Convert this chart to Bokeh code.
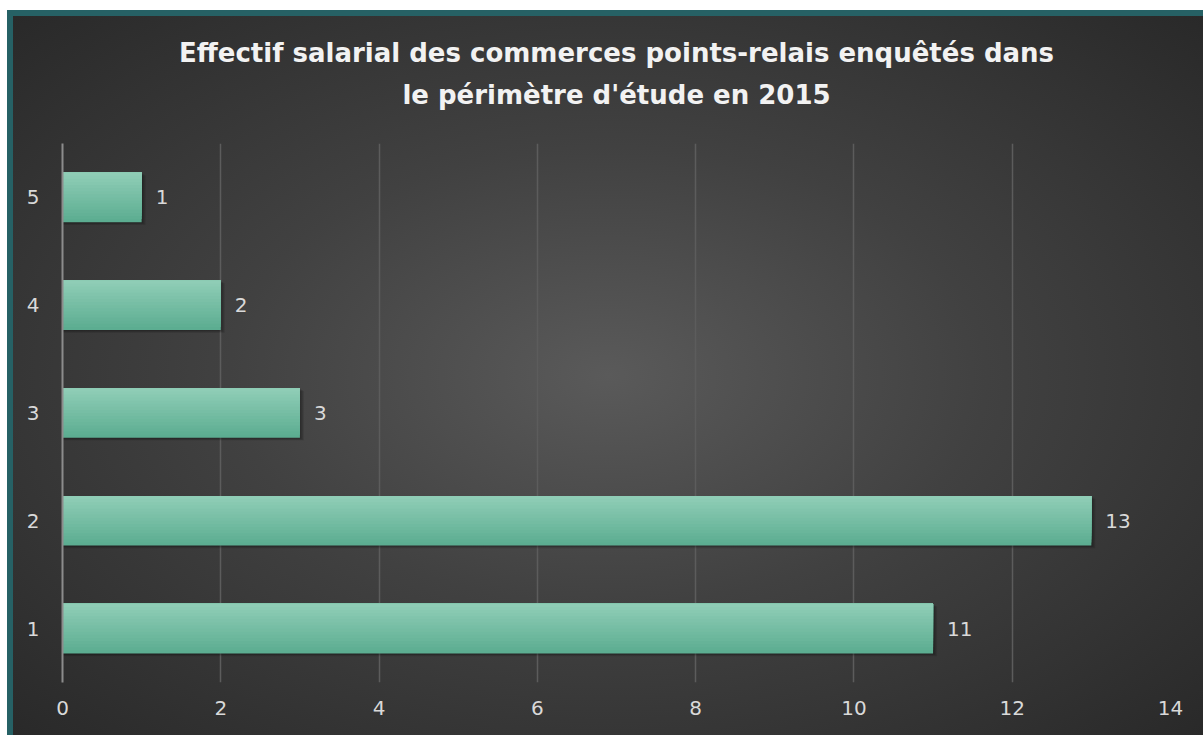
from bokeh.plotting import figure
from bokeh.models import Range1d, FixedTicker, LabelSet, ColumnDataSource, Title
from bokeh.transform import dodge
from bokeh.core.properties import value
from bokeh.embed import file_html
from bokeh.resources import INLINE

# ---- data ----
categories = [1, 2, 3, 4, 5]
values = [11, 13, 3, 2, 1]
labels = [str(v) for v in values]
x_ticks = [0, 2, 4, 6, 8, 10, 12, 14]
title_line1 = "Effectif salarial des commerces points-relais enquêtés dans"
title_line2 = "le périmètre d'étude en 2015"

src = ColumnDataSource(dict(y=categories, x=values, lab=labels))

x_lo, x_hi = x_ticks[0], x_ticks[-1]
y_lo, y_hi = categories[0] - 0.5, categories[-1] + 0.5

p = figure(width=1196, height=725, output_backend="svg", toolbar_location=None,
           x_range=Range1d(x_lo, x_hi), y_range=Range1d(y_lo, y_hi),
           min_border_left=49, min_border_right=39, min_border_top=127,
           min_border_bottom=59)

p.styles = {
    "margin-left": "7px",
    "margin-top": "10px",
    "border-left": "6px solid #266165",
    "border-top": "6px solid #266165",
    "background": "radial-gradient(ellipse farthest-corner at 50% 50%, #5a5a5a 0%, #414141 45%, #292929 100%)",
}
p.background_fill_alpha = 0
p.border_fill_alpha = 0
p.outline_line_color = None

# two-line title; first added panel sits nearest the frame, p.title outermost
p.title.text = title_line1
p.title.align = "center"
p.title.text_font = "DejaVu Sans"
p.title.text_font_size = "26px"
p.title.text_font_style = "bold"
p.title.text_color = "#f2f2f2"
p.title.standoff = 10
spacer = Title(text=" ", text_font_size="1px", standoff=26)
p.add_layout(spacer, "above")
t2 = Title(text=title_line2, align="center", text_font="DejaVu Sans",
           text_font_size="26px", text_font_style="bold", text_color="#f2f2f2",
           standoff=10)
p.add_layout(t2, "above")

bar_h = 0.46
# soft shadow below the bars
for k in range(4):
    p.hbar(y=dodge("y", -0.008 - 0.006 * k, range=None), left=0,
           right=dodge("x", 0.015 + 0.012 * k, range=None), height=bar_h,
           source=src, fill_color="black", fill_alpha=0.09, line_color=None)

# vertical gradient bars: nested bars anchored at the top edge
n = 16
top = (0x8f, 0xcd, 0xb6)
bot = (0x5c, 0xad, 0x91)
for i in range(n):
    t = i / (n - 1)
    c = tuple(int(round(bot[j] + (top[j] - bot[j]) * t)) for j in range(3))
    col = "#%02x%02x%02x" % c
    h = bar_h * (n - i) / n
    off = bar_h / 2 - h / 2
    p.hbar(y=dodge("y", off, range=None), left=0, right="x", height=h,
           source=src, fill_color=col, line_color=None)

labs = LabelSet(x="x", y="y", text="lab", source=src, x_offset=14,
                text_align="left", text_baseline="middle",
                text_font=value("DejaVu Sans"), text_font_size="20px",
                text_color="#d9d9d9")
p.add_layout(labs)

# axes
p.xaxis.ticker = FixedTicker(ticks=x_ticks)
p.yaxis.ticker = FixedTicker(ticks=categories)
for ax in (p.xaxis[0], p.yaxis[0]):
    ax.major_tick_line_color = None
    ax.minor_tick_line_color = None
    ax.major_label_text_font = "DejaVu Sans"
    ax.major_label_text_font_size = "20px"
    ax.major_label_text_color = "#d9d9d9"
p.xaxis.axis_line_color = None
p.xaxis.major_label_standoff = 12
p.yaxis.axis_line_color = "#8c8c8c"
p.yaxis.axis_line_width = 2
p.yaxis.major_label_standoff = 17

p.xgrid.ticker = FixedTicker(ticks=x_ticks)
p.xgrid.grid_line_color = "#5c5c5c"
p.xgrid.grid_line_width = 1.5
p.ygrid.grid_line_color = None

open("out.html", "w").write(file_html(p, INLINE))
